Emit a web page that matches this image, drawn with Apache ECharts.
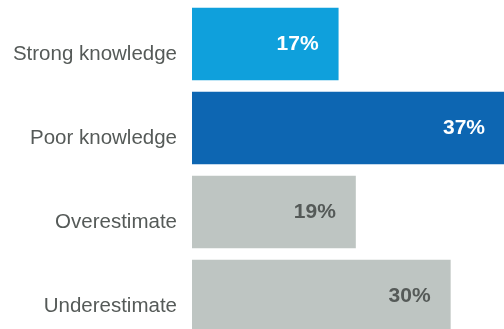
<!DOCTYPE html>
<html><head><meta charset="utf-8">
<script src="https://cdn.jsdelivr.net/npm/echarts@6/dist/echarts.min.js"></script>
<style>html,body{margin:0;padding:0;background:#fff}#c{width:504px;height:329px}</style>
</head><body><div id="c"></div>
<script>
var categories = ['Strong knowledge', 'Poor knowledge', 'Overestimate', 'Underestimate'];
var values = [17, 37, 19, 30];
var barColors = ['#0fa0dc', '#0d66b2', '#bec5c2', '#bec5c2'];
var labelColors = ['#ffffff', '#ffffff', '#555a58', '#555a58'];

var chart = echarts.init(document.getElementById('c'), null, {renderer: 'canvas'});
chart.setOption({
  animation: false,
  grid: {left: 192, top: 2, width: 319, height: 336, containLabel: false, outerBoundsMode: 'none'},
  xAxis: {type: 'value', min: 0, max: 37, show: false},
  yAxis: {
    type: 'category', data: categories, inverse: true,
    axisLine: {show: false}, axisTick: {show: false}, splitLine: {show: false},
    axisLabel: {margin: 15, color: '#555a58', fontSize: 20.5, lineHeight: 21, verticalAlign: 'top',
      fontFamily: 'Liberation Sans, Arial, sans-serif'}
  },
  series: [{
    type: 'bar',
    barCategoryGap: '13.5%',
    data: values.map(function (v, i) {
      return {
        value: v,
        itemStyle: {color: barColors[i]},
        label: {color: labelColors[i], distance: i === 1 ? 26 : 20}
      };
    }),
    label: {
      show: true, position: 'insideRight',
      formatter: function (p) { return p.value + '%'; },
      fontSize: 21, fontWeight: 'bold', fontFamily: 'Liberation Sans, Arial, sans-serif'
    }
  }]
});
</script></body></html>
